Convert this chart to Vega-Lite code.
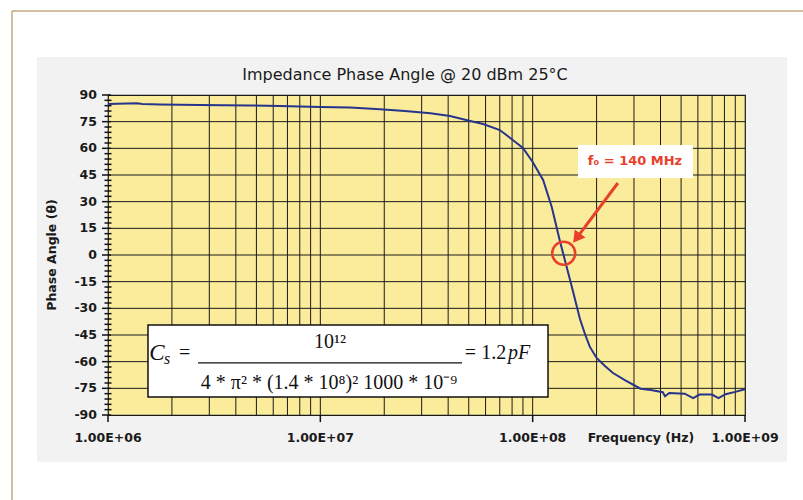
{
  "$schema": "https://vega.github.io/schema/vega-lite/v6.json",
  "width": 637,
  "height": 320,
  "autosize": {"type": "none"},
  "padding": {"left": 108, "top": 95, "right": 58, "bottom": 85},
  "background": "#F2F2F2",
  "config": {"view": {"fill": "#FBEC9C", "stroke": "#1a1a1a", "strokeWidth": 1.2}, "axis": {"grid": false, "domain": false}, "mark": {"clip": false}},
  "datasets": {
    "curve": [
      {"f": 1000000, "v": 84.9}, {"f": 1370000, "v": 85.3}, {"f": 1450000, "v": 85.0},
      {"f": 1760000, "v": 84.7}, {"f": 2710000, "v": 84.4}, {"f": 3500000, "v": 84.3},
      {"f": 4660000, "v": 84.1}, {"f": 6450000, "v": 83.8}, {"f": 10000000, "v": 83.3},
      {"f": 13800000, "v": 83.0}, {"f": 19100000, "v": 82.0}, {"f": 25000000, "v": 81.0},
      {"f": 33000000, "v": 79.7}, {"f": 40800000, "v": 78.2}, {"f": 50800000, "v": 75.4},
      {"f": 58500000, "v": 73.7}, {"f": 70000000, "v": 70.3}, {"f": 80600000, "v": 64.7},
      {"f": 90000000, "v": 60.2}, {"f": 100000000, "v": 52.3}, {"f": 112000000, "v": 42.2},
      {"f": 123000000, "v": 27.0}, {"f": 134000000, "v": 8.4}, {"f": 143000000, "v": -4.5},
      {"f": 153000000, "v": -18.0}, {"f": 167000000, "v": -36.0}, {"f": 177000000, "v": -45.0},
      {"f": 186000000, "v": -51.7}, {"f": 200000000, "v": -57.9}, {"f": 219000000, "v": -62.4},
      {"f": 239000000, "v": -66.4}, {"f": 273000000, "v": -70.5}, {"f": 322000000, "v": -75.2},
      {"f": 360000000, "v": -76.0}, {"f": 410000000, "v": -77.2}, {"f": 420000000, "v": -79.5},
      {"f": 440000000, "v": -77.6}, {"f": 520000000, "v": -78.0}, {"f": 570000000, "v": -80.5},
      {"f": 610000000, "v": -78.5}, {"f": 700000000, "v": -78.5}, {"f": 750000000, "v": -80.5},
      {"f": 810000000, "v": -78.3}, {"f": 900000000, "v": -77.0}, {"f": 1000000000, "v": -75.5}
    ],
    "vgrid": [
      {"f": 2000000}, {"f": 3000000}, {"f": 4000000}, {"f": 5000000}, {"f": 6000000}, {"f": 7000000}, {"f": 8000000}, {"f": 9000000},
      {"f": 10000000}, {"f": 20000000}, {"f": 30000000}, {"f": 40000000}, {"f": 50000000}, {"f": 60000000}, {"f": 70000000}, {"f": 80000000}, {"f": 90000000},
      {"f": 100000000}, {"f": 200000000}, {"f": 300000000}, {"f": 400000000}, {"f": 500000000}, {"f": 600000000}, {"f": 700000000}, {"f": 800000000}, {"f": 900000000}
    ],
    "hgrid": [
      {"v": -75}, {"v": -60}, {"v": -45}, {"v": -30}, {"v": -15}, {"v": 0}, {"v": 15}, {"v": 30}, {"v": 45}, {"v": 60}, {"v": 75}
    ],
    "minor": [
      {"v": -87}, {"v": -84}, {"v": -81}, {"v": -78}, {"v": -72}, {"v": -69}, {"v": -66}, {"v": -63},
      {"v": -57}, {"v": -54}, {"v": -51}, {"v": -48}, {"v": -42}, {"v": -39}, {"v": -36}, {"v": -33},
      {"v": -27}, {"v": -24}, {"v": -21}, {"v": -18}, {"v": -12}, {"v": -9}, {"v": -6}, {"v": -3},
      {"v": 3}, {"v": 6}, {"v": 9}, {"v": 12}, {"v": 18}, {"v": 21}, {"v": 24}, {"v": 27},
      {"v": 33}, {"v": 36}, {"v": 39}, {"v": 42}, {"v": 48}, {"v": 51}, {"v": 54}, {"v": 57},
      {"v": 63}, {"v": 66}, {"v": 69}, {"v": 72}, {"v": 78}, {"v": 81}, {"v": 84}, {"v": 87}
    ],
    "yticks": [
      {"v": -90, "t": "-90"}, {"v": -75, "t": "-75"}, {"v": -60, "t": "-60"}, {"v": -45, "t": "-45"},
      {"v": -30, "t": "-30"}, {"v": -15, "t": "-15"}, {"v": 0, "t": "0"}, {"v": 15, "t": "15"},
      {"v": 30, "t": "30"}, {"v": 45, "t": "45"}, {"v": 60, "t": "60"}, {"v": 75, "t": "75"}, {"v": 90, "t": "90"}
    ],
    "xticks": [
      {"f": 1000000, "t": "1.00E+06"}, {"f": 10000000, "t": "1.00E+07"},
      {"f": 100000000, "t": "1.00E+08"}, {"f": 1000000000, "t": "1.00E+09"}
    ],
    "band": [
      {"x1": 100000, "x2": 5000000000, "y1": 111.4, "y2": 200},
      {"x1": 100000, "x2": 5000000000, "y1": -200, "y2": -116.4},
      {"x1": 100000, "x2": 463000, "y1": -200, "y2": 200},
      {"x1": 1577000000, "x2": 5000000000, "y1": -200, "y2": 200}
    ]
  },
  "layer": [
    {
      "data": {"name": "band"},
      "mark": {"type": "rect", "fill": "white", "clip": false},
      "encoding": {
        "x": {"field": "x1", "type": "quantitative", "scale": {"type": "log", "domain": [1000000, 1000000000], "nice": false}, "axis": null},
        "x2": {"field": "x2"},
        "y": {"field": "y1", "type": "quantitative", "scale": {"domain": [-90, 90], "nice": false, "zero": false}, "axis": null},
        "y2": {"field": "y2"}
      }
    },
    {
      "data": {"values": [{}]},
      "mark": {"type": "rule", "color": "#C6A983", "strokeWidth": 1.5, "clip": false},
      "encoding": {
        "x": {"datum": 353000, "type": "quantitative", "scale": {"type": "log", "domain": [1000000, 1000000000], "nice": false}, "axis": null},
        "y": {"datum": 137.2, "type": "quantitative", "scale": {"domain": [-90, 90], "nice": false, "zero": false}, "axis": null},
        "y2": {"datum": -200}
      }
    },
    {
      "data": {"values": [{}]},
      "mark": {"type": "rule", "color": "#C6A983", "strokeWidth": 1.5, "clip": false},
      "encoding": {
        "x": {"datum": 353000, "type": "quantitative", "scale": {"type": "log", "domain": [1000000, 1000000000], "nice": false}, "axis": null},
        "x2": {"datum": 5000000000},
        "y": {"datum": 137.2, "type": "quantitative", "scale": {"domain": [-90, 90], "nice": false, "zero": false}, "axis": null}
      }
    },
    {
      "data": {"name": "vgrid"},
      "mark": {"type": "rule", "color": "#1a1a1a", "strokeWidth": 1},
      "encoding": {
        "x": {"field": "f", "type": "quantitative", "scale": {"type": "log", "domain": [1000000, 1000000000], "nice": false}, "axis": null},
        "y": {"datum": -90, "type": "quantitative", "scale": {"domain": [-90, 90], "nice": false, "zero": false}, "axis": null},
        "y2": {"datum": 90}
      }
    },
    {
      "data": {"name": "hgrid"},
      "mark": {"type": "rule", "color": "#1a1a1a", "strokeWidth": 1},
      "encoding": {
        "y": {"field": "v", "type": "quantitative", "scale": {"domain": [-90, 90], "nice": false, "zero": false}, "axis": null},
        "x": {"datum": 1000000, "type": "quantitative", "scale": {"type": "log", "domain": [1000000, 1000000000], "nice": false}, "axis": null},
        "x2": {"datum": 1000000000}
      }
    },
    {
      "data": {"name": "minor"},
      "mark": {"type": "tick", "orient": "horizontal", "color": "#111111", "size": 7, "thickness": 1.5, "opacity": 1, "clip": false},
      "encoding": {
        "y": {"field": "v", "type": "quantitative", "scale": {"domain": [-90, 90], "nice": false, "zero": false}, "axis": null},
        "x": {"datum": 1000000, "type": "quantitative", "scale": {"type": "log", "domain": [1000000, 1000000000], "nice": false}, "axis": null}
      }
    },
    {
      "data": {"name": "yticks"},
      "mark": {"type": "rule", "color": "#111111", "strokeWidth": 1.5, "clip": false},
      "encoding": {
        "y": {"field": "v", "type": "quantitative", "scale": {"domain": [-90, 90], "nice": false, "zero": false}, "axis": null},
        "x": {"datum": 937000, "type": "quantitative", "scale": {"type": "log", "domain": [1000000, 1000000000], "nice": false}, "axis": null},
        "x2": {"datum": 1033000}
      }
    },
    {
      "data": {"name": "yticks"},
      "mark": {"type": "text", "font": "DejaVu Sans", "fontWeight": "bold", "fontSize": 12.5, "color": "#1a1a1a", "align": "right", "baseline": "middle", "clip": false},
      "encoding": {
        "y": {"field": "v", "type": "quantitative", "scale": {"domain": [-90, 90], "nice": false, "zero": false}, "axis": null},
        "x": {"datum": 887500, "type": "quantitative", "scale": {"type": "log", "domain": [1000000, 1000000000], "nice": false}, "axis": null},
        "text": {"field": "t"}
      }
    },
    {
      "data": {"name": "xticks"},
      "mark": {"type": "rule", "color": "#111111", "strokeWidth": 1.5, "clip": false},
      "encoding": {
        "x": {"field": "f", "type": "quantitative", "scale": {"type": "log", "domain": [1000000, 1000000000], "nice": false}, "axis": null},
        "y": {"datum": -90, "type": "quantitative", "scale": {"domain": [-90, 90], "nice": false, "zero": false}, "axis": null},
        "y2": {"datum": -94}
      }
    },
    {
      "data": {"name": "xticks"},
      "mark": {"type": "text", "font": "DejaVu Sans", "fontWeight": "bold", "fontSize": 12.5, "color": "#1a1a1a", "align": "center", "baseline": "middle", "clip": false},
      "encoding": {
        "x": {"field": "f", "type": "quantitative", "scale": {"type": "log", "domain": [1000000, 1000000000], "nice": false}, "axis": null},
        "y": {"datum": -102.9, "type": "quantitative", "scale": {"domain": [-90, 90], "nice": false, "zero": false}, "axis": null},
        "text": {"field": "t"}
      }
    },
    {
      "data": {"values": [{"f": 323700000, "v": -102.9, "t": "Frequency (Hz)"}]},
      "mark": {"type": "text", "font": "DejaVu Sans", "fontWeight": "bold", "fontSize": 12.5, "color": "#1a1a1a", "align": "center", "baseline": "middle", "clip": false},
      "encoding": {
        "x": {"field": "f", "type": "quantitative", "scale": {"type": "log", "domain": [1000000, 1000000000], "nice": false}, "axis": null},
        "y": {"field": "v", "type": "quantitative", "scale": {"domain": [-90, 90], "nice": false, "zero": false}, "axis": null},
        "text": {"field": "t"}
      }
    },
    {
      "data": {"values": [{"f": 545000, "v": 0, "t": "Phase Angle (θ)"}]},
      "mark": {"type": "text", "font": "DejaVu Sans", "fontWeight": "bold", "fontSize": 12.5, "color": "#1a1a1a", "align": "center", "baseline": "middle", "angle": 270, "clip": false},
      "encoding": {
        "x": {"field": "f", "type": "quantitative", "scale": {"type": "log", "domain": [1000000, 1000000000], "nice": false}, "axis": null},
        "y": {"field": "v", "type": "quantitative", "scale": {"domain": [-90, 90], "nice": false, "zero": false}, "axis": null},
        "text": {"field": "t"}
      }
    },
    {
      "data": {"name": "curve"},
      "mark": {"type": "line", "color": "#27348B", "strokeWidth": 2},
      "encoding": {
        "x": {"field": "f", "type": "quantitative", "title": "Frequency (Hz)", "scale": {"type": "log", "domain": [1000000, 1000000000], "nice": false}, "axis": null},
        "y": {"field": "v", "type": "quantitative", "title": "Phase Angle (θ)", "scale": {"domain": [-90, 90], "nice": false, "zero": false}, "axis": null}
      }
    },
    {
      "data": {"values": [{}]},
      "mark": {"type": "rect", "fill": "white", "stroke": "#111111", "strokeWidth": 1.5},
      "encoding": {
        "x": {"datum": 1543000, "type": "quantitative", "scale": {"type": "log", "domain": [1000000, 1000000000], "nice": false}, "axis": null},
        "x2": {"datum": 118100000},
        "y": {"datum": -39.4, "type": "quantitative", "scale": {"domain": [-90, 90], "nice": false, "zero": false}, "axis": null},
        "y2": {"datum": -79.9}
      }
    },
    {
      "data": {"values": [{}]},
      "mark": {"type": "rule", "color": "#111111", "strokeWidth": 1.2},
      "encoding": {
        "x": {"datum": 2654000, "type": "quantitative", "scale": {"type": "log", "domain": [1000000, 1000000000], "nice": false}, "axis": null},
        "x2": {"datum": 46480000},
        "y": {"datum": -60.7, "type": "quantitative", "scale": {"domain": [-90, 90], "nice": false, "zero": false}, "axis": null}
      }
    },
    {
      "data": {"values": [
        {"f": 2293000, "v": -55.1, "t": "="},
        {"f": 11110000, "v": -48.9, "t": "10¹²"},
        {"f": 10990000, "v": -72, "t": "4 * π² * (1.4 * 10⁸)² 1000 * 10⁻⁹"},
        {"f": 59960000, "v": -55.1, "t": "= 1.2"}
      ]},
      "mark": {"type": "text", "font": "Liberation Serif", "fontSize": 20, "color": "#111111", "align": "center", "baseline": "middle"},
      "encoding": {
        "x": {"field": "f", "type": "quantitative", "scale": {"type": "log", "domain": [1000000, 1000000000], "nice": false}, "axis": null},
        "y": {"field": "v", "type": "quantitative", "scale": {"domain": [-90, 90], "nice": false, "zero": false}, "axis": null},
        "text": {"field": "t"}
      }
    },
    {
      "data": {"values": [{"f": 1701000, "v": -55.1, "t": "C"}]},
      "mark": {"type": "text", "font": "Liberation Serif", "fontSize": 23, "fontStyle": "italic", "color": "#111111", "align": "center", "baseline": "middle"},
      "encoding": {
        "x": {"field": "f", "type": "quantitative", "scale": {"type": "log", "domain": [1000000, 1000000000], "nice": false}, "axis": null},
        "y": {"field": "v", "type": "quantitative", "scale": {"domain": [-90, 90], "nice": false, "zero": false}, "axis": null},
        "text": {"field": "t"}
      }
    },
    {
      "data": {"values": [{"f": 1896000, "v": -58.5, "t": "s"}]},
      "mark": {"type": "text", "font": "Liberation Serif", "fontSize": 16, "fontStyle": "italic", "color": "#111111", "align": "center", "baseline": "middle"},
      "encoding": {
        "x": {"field": "f", "type": "quantitative", "scale": {"type": "log", "domain": [1000000, 1000000000], "nice": false}, "axis": null},
        "y": {"field": "v", "type": "quantitative", "scale": {"domain": [-90, 90], "nice": false, "zero": false}, "axis": null},
        "text": {"field": "t"}
      }
    },
    {
      "data": {"values": [{"f": 86250000, "v": -55.1, "t": "pF"}]},
      "mark": {"type": "text", "font": "Liberation Serif", "fontSize": 20, "fontStyle": "italic", "color": "#111111", "align": "center", "baseline": "middle"},
      "encoding": {
        "x": {"field": "f", "type": "quantitative", "scale": {"type": "log", "domain": [1000000, 1000000000], "nice": false}, "axis": null},
        "y": {"field": "v", "type": "quantitative", "scale": {"domain": [-90, 90], "nice": false, "zero": false}, "axis": null},
        "text": {"field": "t"}
      }
    },
    {
      "data": {"values": [{}]},
      "mark": {"type": "rect", "fill": "white"},
      "encoding": {
        "x": {"datum": 163500000, "type": "quantitative", "scale": {"type": "log", "domain": [1000000, 1000000000], "nice": false}, "axis": null},
        "x2": {"datum": 569000000},
        "y": {"datum": 61.9, "type": "quantitative", "scale": {"domain": [-90, 90], "nice": false, "zero": false}, "axis": null},
        "y2": {"datum": 43.3}
      }
    },
    {
      "data": {"values": [{"f": 303400000, "v": 52.9, "t": "f₀ = 140 MHz"}]},
      "mark": {"type": "text", "font": "DejaVu Sans", "fontWeight": "bold", "fontSize": 13, "color": "#E8402A", "align": "center", "baseline": "middle"},
      "encoding": {
        "x": {"field": "f", "type": "quantitative", "scale": {"type": "log", "domain": [1000000, 1000000000], "nice": false}, "axis": null},
        "y": {"field": "v", "type": "quantitative", "scale": {"domain": [-90, 90], "nice": false, "zero": false}, "axis": null},
        "text": {"field": "t"}
      }
    },
    {
      "data": {"values": [{}]},
      "mark": {"type": "rule", "color": "#E8402A", "strokeWidth": 3},
      "encoding": {
        "x": {"datum": 252000000, "type": "quantitative", "scale": {"type": "log", "domain": [1000000, 1000000000], "nice": false}, "axis": null},
        "x2": {"datum": 161000000},
        "y": {"datum": 40.5, "type": "quantitative", "scale": {"domain": [-90, 90], "nice": false, "zero": false}, "axis": null},
        "y2": {"datum": 9.46}
      }
    },
    {
      "data": {"values": [{}]},
      "mark": {"type": "point", "shape": "triangle-up", "filled": true, "color": "#E8402A", "opacity": 1, "size": 180, "angle": 217},
      "encoding": {
        "x": {"datum": 161000000, "type": "quantitative", "scale": {"type": "log", "domain": [1000000, 1000000000], "nice": false}, "axis": null},
        "y": {"datum": 9.46, "type": "quantitative", "scale": {"domain": [-90, 90], "nice": false, "zero": false}, "axis": null}
      }
    },
    {
      "data": {"values": [{"f": 140000000, "v": 1}]},
      "mark": {"type": "point", "shape": "circle", "filled": false, "color": "#E8402A", "opacity": 1, "strokeWidth": 2.5, "size": 530},
      "encoding": {
        "x": {"field": "f", "type": "quantitative", "scale": {"type": "log", "domain": [1000000, 1000000000], "nice": false}, "axis": null},
        "y": {"field": "v", "type": "quantitative", "scale": {"domain": [-90, 90], "nice": false, "zero": false}, "axis": null}
      }
    },
    {
      "data": {"values": [{"f": 25050000, "v": 101.25, "t": "Impedance Phase Angle @ 20 dBm 25°C"}]},
      "mark": {"type": "text", "font": "DejaVu Sans", "fontSize": 16, "color": "#1a1a1a", "align": "center", "baseline": "middle", "clip": false},
      "encoding": {
        "x": {"field": "f", "type": "quantitative", "scale": {"type": "log", "domain": [1000000, 1000000000], "nice": false}, "axis": null},
        "y": {"field": "v", "type": "quantitative", "scale": {"domain": [-90, 90], "nice": false, "zero": false}, "axis": null},
        "text": {"field": "t"}
      }
    }
  ]
}
